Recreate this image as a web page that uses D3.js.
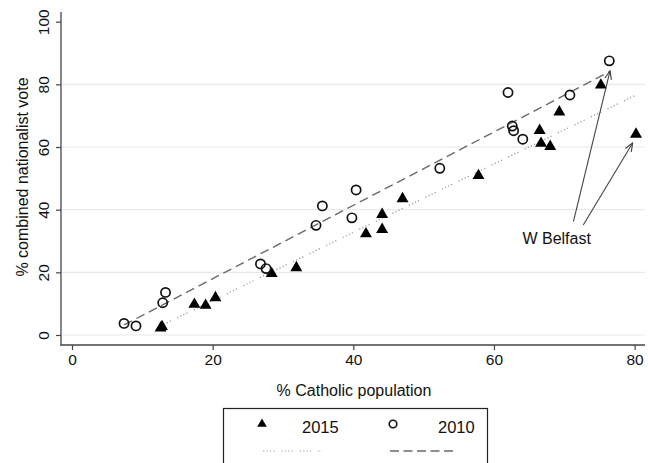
<!DOCTYPE html>
<html><head><meta charset="utf-8">
<script src="https://cdn.jsdelivr.net/npm/d3@7"></script>
<style>
body{margin:0;background:#fff;}
text{font-family:"Liberation Sans",Arial,sans-serif;fill:#111;}
</style></head>
<body><svg id="c" width="648" height="463"></svg>
<script>
// 2015: % Catholic population vs % combined nationalist vote (filled triangles)
const cath2015 = [12.6, 12.8, 17.4, 19.0, 20.4, 28.4, 31.9, 41.8, 44.1, 44.1, 47.0, 57.8, 66.5, 66.7, 68.0, 69.3, 75.2, 80.2];
const vote2015 = [2.5, 3.0, 10.1, 9.8, 12.2, 19.9, 21.8, 32.6, 34.0, 38.8, 43.8, 51.2, 65.6, 61.5, 60.5, 71.5, 80.1, 64.4];
// 2010 (hollow circles)
const cath2010 = [7.4, 9.1, 12.9, 13.3, 26.8, 27.6, 34.7, 35.6, 39.8, 40.4, 52.3, 62.0, 62.6, 62.8, 64.1, 70.8, 76.4];
const vote2010 = [3.7, 2.9, 10.3, 13.6, 22.7, 21.2, 35.0, 41.2, 37.4, 46.3, 53.2, 77.4, 66.7, 65.2, 62.5, 76.6, 87.5];
// fitted lines (endpoints)
const fit2015 = [[12.6, 2.9], [80.2, 76.6]];
const fit2010 = [[7.4, 3.2], [76.4, 84.0]];
const xTicks = [0, 20, 40, 60, 80];
const yTicks = [0, 20, 40, 60, 80, 100];
const gridTicks = [0, 20, 40, 60, 80];
const annotation = {label: "W Belfast", at: [64.05, 28.9],
  arrows: [[[71.3, 36.2], [76.5, 84.2]], [[72.7, 35.1], [79.7, 61.2]]]};
const legendItems = ["2015", "2010"];

const svg = d3.select("#c");
const x = d3.scaleLinear().domain([0, 80]).range([72, 634.6]);
const y = d3.scaleLinear().domain([0, 100]).range([335, 21.7]);
const axisColor = "#444";
const dotPattern = "1.2,2.2,1.2,2.2,1.2,2.2,1.2,7";

// gridlines
svg.append("g").selectAll("line").data(gridTicks).join("line")
  .attr("x1", 62).attr("x2", 645).attr("y1", d => y(d)).attr("y2", d => y(d))
  .attr("stroke", "#e9e9e9").attr("stroke-width", 1.2);

// y axis
const ya = svg.append("g").attr("transform", "translate(61,0)")
  .call(d3.axisLeft(y).tickValues(yTicks).tickSize(5).tickPadding(14));
ya.select(".domain").remove();
ya.selectAll(".tick line").attr("stroke", axisColor).attr("stroke-width", 1.2);
ya.selectAll(".tick text").attr("x", 0).attr("dy", null)
  .attr("transform", "translate(-18,0) rotate(-90)")
  .attr("text-anchor", "middle").attr("dy", "0.36em")
  .style("font-size", "15.5px").attr("fill", "#111").style("font-family", '"Liberation Sans",Arial,sans-serif');
svg.append("line").attr("x1", 61).attr("x2", 61).attr("y1", 12).attr("y2", 345.6)
  .attr("stroke", axisColor).attr("stroke-width", 1.3);

// x axis
const xa = svg.append("g").attr("transform", "translate(0,345)")
  .call(d3.axisBottom(x).tickValues(xTicks).tickSize(5).tickPadding(4));
xa.select(".domain").remove();
xa.selectAll(".tick line").attr("stroke", axisColor).attr("stroke-width", 1.2);
xa.selectAll(".tick text").style("font-size", "15.5px").attr("fill", "#111")
  .style("font-family", '"Liberation Sans",Arial,sans-serif');
svg.append("line").attr("x1", 60.4).attr("x2", 645).attr("y1", 345).attr("y2", 345)
  .attr("stroke", axisColor).attr("stroke-width", 1.3);

// axis titles
svg.append("text").attr("x", 354).attr("y", 396).attr("text-anchor", "middle")
  .style("font-size", "16px").text("% Catholic population");
svg.append("text").attr("transform", "translate(22,177) rotate(-90)")
  .attr("text-anchor", "middle").attr("dy", "0.36em")
  .style("font-size", "16px").text("% combined nationalist vote");

// fit lines
const line = d3.line().x(d => x(d[0])).y(d => y(d[1]));
svg.append("path").attr("d", line(fit2015)).attr("fill", "none")
  .attr("stroke", "#9a9a9a").attr("stroke-width", 1.3).attr("stroke-dasharray", dotPattern);
svg.append("path").attr("d", line(fit2010)).attr("fill", "none")
  .attr("stroke", "#6a6a6a").attr("stroke-width", 1.4).attr("stroke-dasharray", "9,5");

// markers
const tri = d3.symbol().type(d3.symbolTriangle).size(62);
svg.append("g").selectAll("path").data(cath2015.map((c, i) => [c, vote2015[i]])).join("path")
  .attr("d", tri).attr("transform", d => `translate(${x(d[0])},${y(d[1]) + 1})`)
  .attr("fill", "#000");
svg.append("g").selectAll("circle").data(cath2010.map((c, i) => [c, vote2010[i]])).join("circle")
  .attr("cx", d => x(d[0])).attr("cy", d => y(d[1])).attr("r", 4.6)
  .attr("fill", "none").attr("stroke", "#111").attr("stroke-width", 1.7);

// annotation
const defs = svg.append("defs");
defs.append("marker").attr("id", "ah").attr("viewBox", "0 0 10 10").attr("refX", 9).attr("refY", 5)
  .attr("markerWidth", 9).attr("markerHeight", 9).attr("markerUnits", "userSpaceOnUse").attr("orient", "auto")
  .append("path").attr("d", "M0,1.2 L9.5,5 L0,8.8").attr("fill", "none").attr("stroke", "#444").attr("stroke-width", 1.3);
svg.append("g").selectAll("line").data(annotation.arrows).join("line")
  .attr("x1", d => x(d[0][0])).attr("y1", d => y(d[0][1]))
  .attr("x2", d => x(d[1][0])).attr("y2", d => y(d[1][1]))
  .attr("stroke", "#444").attr("stroke-width", 1.1).attr("marker-end", "url(#ah)");
svg.append("text").attr("x", x(annotation.at[0])).attr("y", y(annotation.at[1]))
  .style("font-size", "16px").text(annotation.label);

// legend
const lg = svg.append("g");
lg.append("rect").attr("x", 223.5).attr("y", 408.5).attr("width", 264).attr("height", 70)
  .attr("fill", "#fff").attr("stroke", "#222").attr("stroke-width", 1.2);
lg.append("path").attr("d", d3.symbol().type(d3.symbolTriangle).size(40)())
  .attr("transform", "translate(262,424)").attr("fill", "#000");
lg.append("circle").attr("cx", 393).attr("cy", 424).attr("r", 3.8)
  .attr("fill", "none").attr("stroke", "#111").attr("stroke-width", 1.6);
lg.append("text").attr("x", 302).attr("y", 432.5).style("font-size", "16.5px").text(legendItems[0]);
lg.append("text").attr("x", 438).attr("y", 432.5).style("font-size", "16.5px").text(legendItems[1]);
lg.append("line").attr("x1", 263).attr("x2", 322).attr("y1", 451).attr("y2", 451)
  .attr("stroke", "#9a9a9a").attr("stroke-width", 1.2).attr("stroke-dasharray", dotPattern);
lg.append("line").attr("x1", 390).attr("x2", 453).attr("y1", 451).attr("y2", 451)
  .attr("stroke", "#6a6a6a").attr("stroke-width", 1.4).attr("stroke-dasharray", "9,4.5");
</script></body></html>
